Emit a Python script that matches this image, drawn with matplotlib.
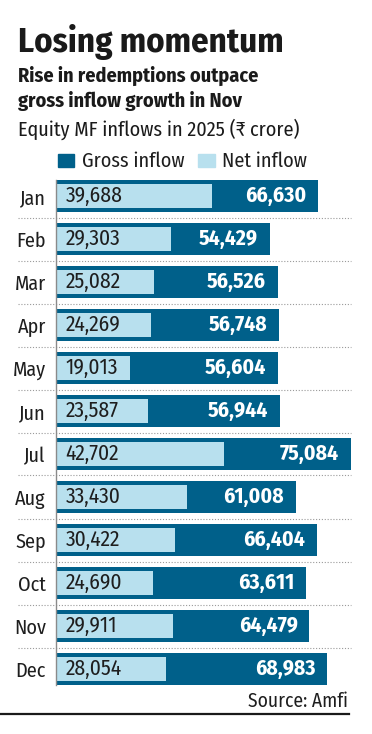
import matplotlib
matplotlib.use("Agg")
import matplotlib.pyplot as plt
import matplotlib.transforms as mtransforms
from matplotlib.patches import Rectangle
from matplotlib.lines import Line2D

plt.rcParams["font.family"] = ["Fira Sans Condensed", "DejaVu Sans"]

# data (Rs crore)
months = ["Jan", "Feb", "Mar", "Apr", "May", "Jun",
          "Jul", "Aug", "Sep", "Oct", "Nov", "Dec"]
gross_inflow = [66630, 54429, 56526, 56748, 56604, 56944,
                75084, 61008, 66404, 63611, 64479, 68983]
net_inflow = [39688, 29303, 25082, 24269, 19013, 23587,
              42702, 33430, 30422, 24690, 29911, 28054]

DARK = "#00608a"
LIGHT = "#b8e0ee"
INK = "#1e1e1e"

W, H = 372, 734
fig = plt.figure(figsize=(W / 100, H / 100), dpi=100)


def fy(py):
    # pixel row from top -> figure fraction
    return 1 - py / H


def fx(px):
    return px / W


# axes placed so rows sit where the reference has them
ax = fig.add_axes([fx(55.5), fy(685), fx(304.5), 505 / H])
pos = list(range(len(months)))
ax.barh(pos, gross_inflow, height=32 / 43, color=DARK, zorder=2)
ax.barh(pos, net_inflow, height=24 / 43, color=LIGHT, zorder=3)

ax.set_xlim(0, 77300)
ax.set_ylim(len(months) - 1 + 16 / 43, -16 / 43)
ax.set_xticks([])
ax.set_yticks(pos)
ax.set_yticklabels(months, fontsize=14.5, color=INK)
ax.tick_params(axis="y", length=0, pad=7)
for side in ["top", "right", "bottom"]:
    ax.spines[side].set_visible(False)
ax.spines["left"].set_color("#8a8a8a")
ax.spines["left"].set_linewidth(1)
ax.spines["left"].set_zorder(4)

for i in pos:
    ax.annotate(f"{net_inflow[i]:,}", (0, i), xytext=(7.2, -4.3),
                textcoords="offset points", ha="left", va="baseline",
                fontsize=15.5, color=INK, zorder=5)
    ax.annotate(f"{gross_inflow[i]:,}", (gross_inflow[i], i), xytext=(-8.6, -4.3),
                textcoords="offset points", ha="right", va="baseline",
                fontsize=15.5, fontweight="bold", color="white", zorder=5)

# dotted row separators spanning past the axis
blend = mtransforms.blended_transform_factory(fig.transFigure, ax.transData)
for i in pos[:-1]:
    ax.add_line(Line2D([fx(18), fx(351)], [i + 0.5, i + 0.5], transform=blend,
                       color="#9a9a9a", lw=0.8, linestyle=(0, (1, 1.6)),
                       clip_on=False, zorder=1))

# titles
fig.text(fx(18), fy(52), "Losing momentum", fontsize=25, fontweight="bold",
         color="#1a1a1a", va="baseline")
fig.text(fx(18), fy(82), "Rise in redemptions outpace", fontsize=14.5,
         fontweight="bold", color="#1a1a1a", va="baseline")
fig.text(fx(18), fy(107), "gross inflow growth in Nov", fontsize=14.5,
         fontweight="bold", color="#1a1a1a", va="baseline")
fig.text(fx(18), fy(136), "Equity MF inflows in 2025 (₹ crore)", fontsize=14.5,
         color="#1a1a1a", va="baseline")

# legend
fig.patches.append(Rectangle((fx(58), fy(167)), fx(16), 13 / H,
                             transform=fig.transFigure, color=DARK))
fig.text(fx(82), fy(167), "Gross inflow", fontsize=14.5, color=INK, va="baseline")
fig.patches.append(Rectangle((fx(198), fy(167)), fx(17), 13 / H,
                             transform=fig.transFigure, color=LIGHT))
fig.text(fx(222), fy(167), "Net inflow", fontsize=14.5, color=INK, va="baseline")

# source and bottom rule
fig.text(fx(348), fy(707), "Source: Amfi", fontsize=14, color=INK,
         ha="right", va="baseline")
fig.add_artist(Line2D([0, fx(349)], [fy(714), fy(714)], transform=fig.transFigure,
                      color="#1a1a1a", lw=1.6))

fig.savefig("out.png", dpi=100)
